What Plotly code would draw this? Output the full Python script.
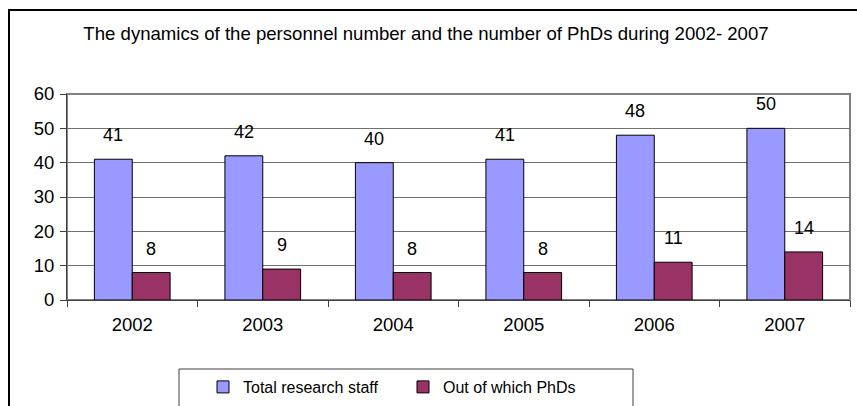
import plotly.graph_objects as go

years = ["2002", "2003", "2004", "2005", "2006", "2007"]
total_staff = [41, 42, 40, 41, 48, 50]
phds = [8, 9, 8, 8, 11, 14]
title_text = "The dynamics of the personnel number and the number of PhDs during 2002- 2007"
series_names = ["Total research staff", "Out of which PhDs"]

FONT = "Liberation Sans, Arial, sans-serif"
L, R, T, B = 67, 7, 94, 106
W, H = 857, 406
PW, PH = W - L - R, H - T - B


def px_x(p):
    return (p - L) / PW


def px_y(p):
    return (H - B - p) / PH


fig = go.Figure()
fig.add_trace(go.Bar(x=years, y=total_staff, name=series_names[0], showlegend=True,
                     marker=dict(color="#9999FF", line=dict(color="#000000", width=1)),
                     legend="legend"))
fig.add_trace(go.Bar(x=years, y=phds, name=series_names[1], showlegend=True,
                     marker=dict(color="#993366", line=dict(color="#000000", width=1)),
                     legend="legend2"))

annotations = []
for vals, shift in ((total_staff, -19), (phds, 19)):
    for i, v in enumerate(vals):
        annotations.append(dict(x=i, y=v, xref="x", yref="y", text=str(v), showarrow=False,
                                xshift=shift, yshift=24, yanchor="middle",
                                font=dict(family=FONT, size=18, color="#000000")))

shapes = [
    # outer chart border
    dict(type="rect", xref="paper", yref="paper", x0=px_x(9), x1=px_x(W + 20),
         y0=px_y(10), y1=px_y(H + 20), line=dict(color="#000000", width=2), layer="below"),
    # plot area border
    dict(type="rect", xref="paper", yref="paper", x0=0, x1=1, y0=0, y1=1,
         line=dict(color="#808080", width=2), layer="below"),
    # legend box
    dict(type="rect", xref="paper", yref="paper", x0=px_x(179), x1=px_x(633),
         y0=px_y(369), y1=px_y(H + 20), line=dict(color="#404040", width=1), layer="below"),
]

fig.update_layout(
    width=W, height=H,
    margin=dict(l=L, r=R, t=T, b=B, autoexpand=False),
    paper_bgcolor="#FFFFFF", plot_bgcolor="#FFFFFF",
    barmode="group", bargap=0.42, bargroupgap=0,
    showlegend=True,
    font=dict(family=FONT, size=18, color="#000000"),
    title=dict(text=title_text, x=px_x(426), xref="paper", xanchor="center",
               y=1 - 33 / H, yref="container", yanchor="middle",
               font=dict(family=FONT, size=18.6, color="#000000")),
    xaxis=dict(type="category", range=[-0.5, 5.5], showline=True, linecolor="#404040", linewidth=1,
               ticks="outside", tickson="boundaries", ticklen=6, tickcolor="#404040",
               showgrid=False, tickfont=dict(size=18.5), ticklabelstandoff=8),
    yaxis=dict(range=[0, 60], dtick=10, showline=True, linecolor="#404040", linewidth=1,
               ticks="outside", ticklen=6, tickcolor="#404040",
               showgrid=True, gridcolor="#707070", gridwidth=1,
               tickfont=dict(size=18.5), zeroline=False, ticklabelstandoff=2),
    legend=dict(orientation="h", xref="container", yref="container",
                x=203 / W, xanchor="left", y=1 - 387 / H, yanchor="middle",
                font=dict(family=FONT, size=16), bgcolor="rgba(0,0,0,0)"),
    legend2=dict(orientation="h", xref="container", yref="container",
                 x=403 / W, xanchor="left", y=1 - 387 / H, yanchor="middle",
                 font=dict(family=FONT, size=16), bgcolor="rgba(0,0,0,0)"),
    annotations=annotations,
    shapes=shapes,
)

fig.write_html("out.html", config={"displayModeBar": False},
               post_script="document.body.style.margin='0';")
